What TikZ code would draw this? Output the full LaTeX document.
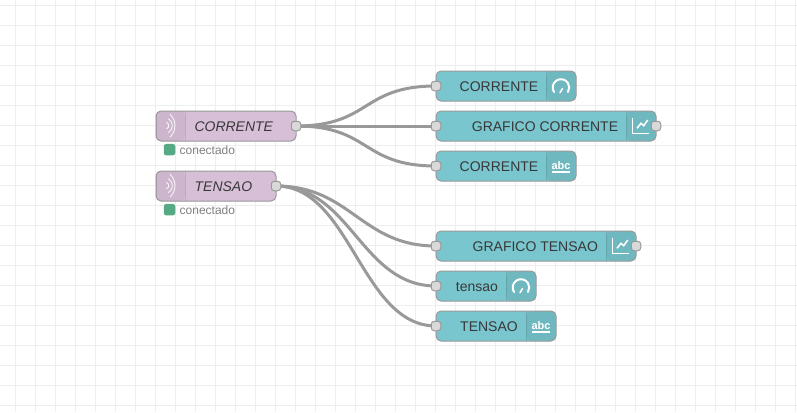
\documentclass[tikz,border=0pt]{standalone}
\usepackage{fontspec}
\setmainfont{Liberation Sans}
\usetikzlibrary{backgrounds}
\definecolor{teal1}{HTML}{7AC6CE}
\definecolor{teal2}{HTML}{70B8C0}
\definecolor{mauve1}{HTML}{D8BFD8}
\definecolor{mauve2}{HTML}{CDB5CD}
\definecolor{bord}{HTML}{999999}
\definecolor{portc}{HTML}{D9D9D9}
\definecolor{gridc}{HTML}{EEEEEE}
\definecolor{stat}{HTML}{55A985}
\tikzset{
  flowbody/.style={draw=bord,line width=1pt,rounded corners=5pt,anchor=north west,inner sep=0pt,outer sep=0pt},
  flowport/.style={draw=bord,line width=1pt,fill=portc,rounded corners=3pt,minimum size=9.5pt,inner sep=0pt,outer sep=0pt},
  wire/.style={draw=bord,line width=3pt},
  flowlabel/.style={text=black!78,font=\fontsize{14}{16}\selectfont,inner sep=0pt},
  inlabel/.style={flowlabel,font=\fontsize{14}{16}\selectfont\itshape},
  statlabel/.style={text=black!50,font=\fontsize{12}{14}\selectfont,inner sep=0pt,anchor=west},
  statdot/.style={fill=stat,draw=none,rounded corners=2.5pt,minimum size=11.5pt,inner sep=0pt},
  iconline/.style={draw=white,line width=1.5pt},
  wifiarc/.style={draw=white,draw opacity=.85,line width=.9pt},
  gridline/.style={draw=gridc,line width=1pt}
}
% #1 name, #2 x, #3 y, #4 width, #5 fill, #6 shade fill, #7 shade from x, #8 shade to x
\newcommand\flowbox[8]{%
  \node[flowbody,fill=#5,minimum width=#4pt,minimum height=30pt,
    path picture={
      \fill[#6] ([xshift={(#7-#2)*1pt}]path picture bounding box.north west) rectangle ([xshift={(#8-#2)*1pt}]path picture bounding box.south west);
      \draw[draw=black,draw opacity=.1,line width=1pt]
        ([xshift={(#7-#2)*1pt}]path picture bounding box.north west) -- ([xshift={(#7-#2)*1pt}]path picture bounding box.south west)
        ([xshift={(#8-#2)*1pt}]path picture bounding box.north west) -- ([xshift={(#8-#2)*1pt}]path picture bounding box.south west);}]
    (#1) at (#2,#3) {};}
\newcommand\gaugeicon[2]{%
  \draw[white,line width=2pt,line cap=round] (#1-7,#2+6) arc[start angle=147,end angle=393,radius=8.3];
  \draw[white,line width=1.5pt,line cap=round] (#1-1,#2+6.7) -- (#1+1.5,#2+2.5);}
\newcommand\charticon[2]{%
  \draw[iconline] (#1-8,#2-8) -- (#1-8,#2+7.3) -- (#1+8,#2+7.3);
  \draw[iconline] (#1-3.5,#2+2.3) -- (#1+.5,#2-2.7) -- (#1+3.2,#2-.3) -- (#1+7.2,#2-6);}
\newcommand\abcicon[2]{%
  \node[text=white,font=\fontsize{11}{12}\selectfont\bfseries,inner sep=0pt] at (#1,#2-0.5) {abc};
  \draw[white,line width=1.6pt] (#1-9,#2+6) -- (#1+9,#2+6);}
\newcommand\wifiicon[2]{%
  \draw[wifiarc] (#1-3.5,#2-3.3) arc[start angle=-70,end angle=70,radius=3.5];
  \draw[wifiarc] (#1-1.7,#2-7) arc[start angle=-60,end angle=60,radius=8.1];
  \draw[wifiarc] (#1,#2-11.5) arc[start angle=-47,end angle=47,radius=15.7];}
\begin{document}
\begin{tikzpicture}[x=1pt,y=-1pt]
\useasboundingbox (0,0) rectangle (797,412);
% input nodes
\flowbox{inC}{156}{111}{140}{mauve1}{mauve2}{156}{185}
\flowbox{inT}{156}{171}{120}{mauve1}{mauve2}{156}{185}
% output nodes
\flowbox{gaugeC}{436}{71}{140}{teal1}{teal2}{546}{576}
\flowbox{chartC}{436}{111}{220}{teal1}{teal2}{626}{656}
\flowbox{textC}{436}{151}{140}{teal1}{teal2}{546}{576}
\flowbox{chartT}{436}{231}{200}{teal1}{teal2}{606}{636}
\flowbox{gaugeT}{436}{271}{100}{teal1}{teal2}{506}{536}
\flowbox{textT}{436}{311}{120}{teal1}{teal2}{526}{556}
% ports
\node[flowport] (pInC) at (296,126) {};
\node[flowport] (pInT) at (276,186) {};
\node[flowport] (pGaugeC) at (436,86) {};
\node[flowport] (pChartC) at (436,126) {};
\node[flowport] (pChartCo) at (656,126) {};
\node[flowport] (pTextC) at (436,166) {};
\node[flowport] (pChartT) at (436,246) {};
\node[flowport] (pChartTo) at (636,246) {};
\node[flowport] (pGaugeT) at (436,286) {};
\node[flowport] (pTextT) at (436,326) {};
% labels
\node[inlabel] (lInC) at (233.8,126.6) {CORRENTE};
\node[inlabel] (lInT) at (223.4,186.6) {TENSAO};
\node[flowlabel] (lGaugeC) at (499,86.6) {CORRENTE};
\node[flowlabel] (lChartC) at (545,126.6) {GRAFICO CORRENTE};
\node[flowlabel] (lTextC) at (499,166.6) {CORRENTE};
\node[flowlabel] (lChartT) at (535.3,246.6) {GRAFICO TENSAO};
\node[flowlabel] (lGaugeT) at (477,286.6) {tensao};
\node[flowlabel] (lTextT) at (489,326.6) {TENSAO};
% status
\node[statdot] (sC) at (169.5,149.7) {};
\node[statlabel] (tC) at (179.5,150) {conectado};
\node[statdot] (sT) at (169.5,209.7) {};
\node[statlabel] (tT) at (179.5,210) {conectado};
% icons
\wifiicon{170}{125.7}
\wifiicon{170}{185.7}
\gaugeicon{561}{86}
\charticon{640.5}{126}
\abcicon{561}{166}
\charticon{620.5}{246}
\gaugeicon{521}{286}
\abcicon{541}{326}
\begin{scope}[on background layer]
  \fill[white] (0,0) rectangle (797,412);
  \foreach \gx in {15.5,35.5,...,795.5} \draw[gridline] (\gx,0) -- (\gx,412);
  \foreach \gy in {5.5,25.5,...,405.5} \draw[gridline] (0,\gy) -- (797,\gy);
  \draw[wire] (pInC.center) .. controls +(75,0) and +(-75,0) .. (pGaugeC.center);
  \draw[wire] (pInC.center) -- (pChartC.center);
  \draw[wire] (pInC.center) .. controls +(75,0) and +(-75,0) .. (pTextC.center);
  \draw[wire] (pInT.center) .. controls +(75,0) and +(-75,0) .. (pChartT.center);
  \draw[wire] (pInT.center) .. controls +(75,0) and +(-75,0) .. (pGaugeT.center);
  \draw[wire] (pInT.center) .. controls +(75,0) and +(-75,0) .. (pTextT.center);
\end{scope}
\end{tikzpicture}
\end{document}
